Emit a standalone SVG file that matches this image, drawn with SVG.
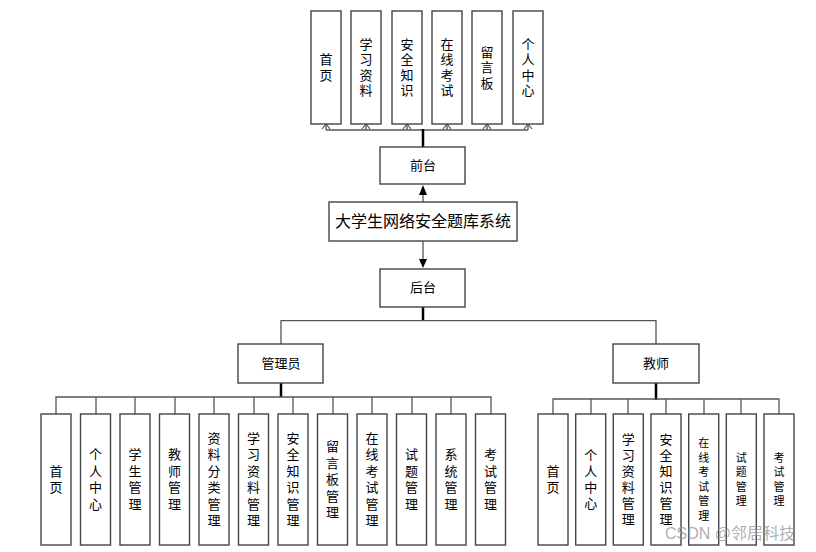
<svg xmlns="http://www.w3.org/2000/svg" width="816" height="552" viewBox="0 0 816 552">
<defs>
<style>
.box{fill:#fff;stroke:#444;stroke-width:1.4}
.t{font-family:"Noto Sans CJK SC","Liberation Sans",sans-serif;font-size:13px;fill:#000;text-anchor:middle}
.v{font-family:"Noto Sans CJK SC","Liberation Sans",sans-serif;font-size:13px;fill:#000;text-anchor:middle;writing-mode:vertical-rl}
.g1{letter-spacing:2.5px}
.g2{letter-spacing:3.5px}
.g3{letter-spacing:3px}
.s{font-size:11px;letter-spacing:3.5px}
.big{font-size:16px}
.ln{fill:none;stroke:#555;stroke-width:1.3}
.tk{fill:none;stroke:#000;stroke-width:2.5}
.wm{font-family:"Liberation Sans","Noto Sans CJK SC",sans-serif;font-size:16px;fill:#999;fill-opacity:0.8}
</style>
</defs>
<rect width="816" height="552" fill="#fff"/>

<g id="connectors">
<path class="ln" d="M326,130 H528"/>
<path class="tk" d="M423,147 V129"/>
<path class="ln" d="M326,130 V125 M366,130 V125 M407,130 V125 M447,130 V125 M487,130 V125 M528,130 V125"/>
<path d="M322,129 L326,124 L330,129 M362,129 L366,124 L370,129 M403,129 L407,124 L411,129 M443,129 L447,124 L451,129 M483,129 L487,124 L491,129 M524,129 L528,124 L532,129" fill="none" stroke="#555" stroke-width="1.2"/>
<path class="ln" d="M423,202 V194"/>
<path d="M419,195 L423,185 L427,195 Z" fill="#000"/>
<path class="ln" d="M423,241 V259"/>
<path d="M419,259 L427,259 L423,268 Z" fill="#000"/>
<path class="tk" d="M423,307 V321"/>
<path class="ln" d="M281,344 V320.7 H656 V344"/>
<path class="tk" d="M281,383 V397"/>
<path class="ln" d="M56,414 V397 H491 V414"/>
<path class="ln" d="M96,397 V414 M135,397 V414 M175,397 V414 M214,397 V414 M254,397 V414 M293,397 V414 M333,397 V414 M372,397 V414 M412,397 V414 M451,397 V414"/>
<path class="tk" d="M656,383 V400"/>
<path class="ln" d="M553,414 V399 H779 V414"/>
<path class="ln" d="M591,399 V414 M628,399 V414 M666,399 V414 M704,399 V414 M741,399 V414"/>
</g>

<g id="top-nodes">
<g id="f1"><rect class="box" x="311" y="11" width="30" height="113"/><text class="v g1" x="326" y="68.5">首页</text></g>
<g id="f2"><rect class="box" x="351" y="11" width="30" height="113"/><text class="v g1" x="366" y="68.5">学习资料</text></g>
<g id="f3"><rect class="box" x="392" y="11" width="30" height="113"/><text class="v g1" x="407" y="68.5">安全知识</text></g>
<g id="f4"><rect class="box" x="432" y="11" width="30" height="113"/><text class="v g1" x="447" y="68.5">在线考试</text></g>
<g id="f5"><rect class="box" x="472" y="11" width="30" height="113"/><text class="v g1" x="487" y="68.5">留言板</text></g>
<g id="f6"><rect class="box" x="513" y="11" width="30" height="113"/><text class="v g1" x="528" y="68.5">个人中心</text></g>
</g>

<g id="front"><rect class="box" x="380" y="147" width="85" height="37"/><text class="t" x="423" y="170">前台</text></g>
<g id="title"><rect class="box" x="329" y="202" width="188" height="39"/><text class="t big" x="423" y="227">大学生网络安全题库系统</text></g>
<g id="back"><rect class="box" x="380" y="269" width="85" height="38"/><text class="t" x="423" y="292">后台</text></g>
<g id="admin"><rect class="box" x="238" y="344" width="85" height="39"/><text class="t" x="281" y="368">管理员</text></g>
<g id="teacher"><rect class="box" x="613" y="344" width="86" height="39"/><text class="t" x="656" y="368">教师</text></g>

<g id="admin-nodes">
<g id="a1"><rect class="box" x="41" y="414" width="30" height="131"/><text class="v g2" x="56" y="481">首页</text></g>
<g id="a2"><rect class="box" x="80.5" y="414" width="30" height="131"/><text class="v g2" x="95.5" y="481">个人中心</text></g>
<g id="a3"><rect class="box" x="120" y="414" width="30" height="131"/><text class="v g2" x="135" y="481">学生管理</text></g>
<g id="a4"><rect class="box" x="159.5" y="414" width="30" height="131"/><text class="v g2" x="174.5" y="481">教师管理</text></g>
<g id="a5"><rect class="box" x="199" y="414" width="30" height="131"/><text class="v g2" x="214" y="481">资料分类管理</text></g>
<g id="a6"><rect class="box" x="238.5" y="414" width="30" height="131"/><text class="v g2" x="253.5" y="481">学习资料管理</text></g>
<g id="a7"><rect class="box" x="278" y="414" width="30" height="131"/><text class="v g2" x="293" y="481">安全知识管理</text></g>
<g id="a8"><rect class="box" x="317.5" y="414" width="30" height="131"/><text class="v g2" x="332.5" y="481">留言板管理</text></g>
<g id="a9"><rect class="box" x="357" y="414" width="30" height="131"/><text class="v g2" x="372" y="481">在线考试管理</text></g>
<g id="a10"><rect class="box" x="396.5" y="414" width="30" height="131"/><text class="v g2" x="411.5" y="481">试题管理</text></g>
<g id="a11"><rect class="box" x="436" y="414" width="30" height="131"/><text class="v g2" x="451" y="481">系统管理</text></g>
<g id="a12"><rect class="box" x="475.5" y="414" width="30" height="131"/><text class="v g2" x="490.5" y="481">考试管理</text></g>
</g>

<g id="teacher-nodes">
<g id="t1"><rect class="box" x="538" y="414" width="30" height="131"/><text class="v g3" x="553" y="481">首页</text></g>
<g id="t2"><rect class="box" x="575.7" y="414" width="30" height="131"/><text class="v g3" x="590.7" y="481">个人中心</text></g>
<g id="t3"><rect class="box" x="613.3" y="414" width="30" height="131"/><text class="v g3" x="628.3" y="481">学习资料管理</text></g>
<g id="t4"><rect class="box" x="651" y="414" width="30" height="131"/><text class="v g3" x="666" y="481">安全知识管理</text></g>
<g id="t5"><rect class="box" x="688.7" y="414" width="30" height="131"/><text class="v s" x="703.7" y="481">在线考试管理</text></g>
<g id="t6"><rect class="box" x="726.3" y="414" width="30" height="131"/><text class="v s" x="741.3" y="481">试题管理</text></g>
<g id="t7"><rect class="box" x="764" y="414" width="30" height="131"/><text class="v s" x="779" y="481">考试管理</text></g>
</g>

<text class="wm" x="665" y="539">CSDN @邻居科技</text>
</svg>
